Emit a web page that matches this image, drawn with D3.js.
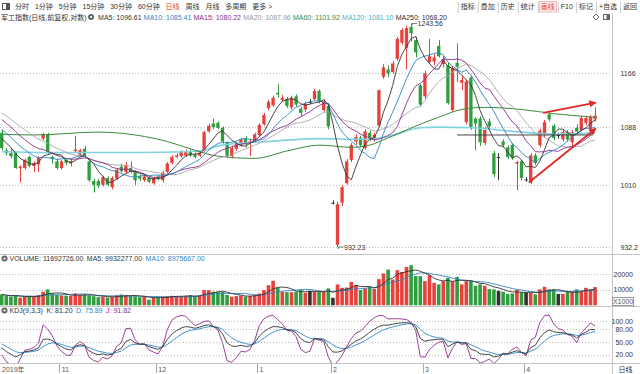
<!DOCTYPE html>
<html>
<head>
<meta charset="utf-8">
<script src="https://cdn.jsdelivr.net/npm/d3@7"></script>
<style>
body { margin: 0; background: #fff; }
svg { display: block; font-family: "Liberation Sans", Arial, "Noto Sans CJK SC", sans-serif; }
</style>
</head>
<body>
<svg width="640" height="374"></svg>
<script>
// ---- data ----
var months = ["2019-10", "2019-11", "2019-12", "2020-01", "2020-02", "2020-03", "2020-04"];
var monthLabels = ["2019年", "11", "12", "1", "2", "3", "4"];
var tradingDays = [
    [15,16,17,18,21,22,23,24,25,28,29,30,31],
    [1,4,5,6,7,8,11,12,13,14,15,18,19,20,21,22,25,26,27,28,29],
    [2,3,4,5,6,9,10,11,12,13,16,17,18,19,20,23,24,25,26,27,30,31],
    [2,3,6,7,8,9,10,13,14,15,16,17,20,21,22,23],
    [3,4,5,6,7,10,11,12,13,14,17,18,19,20,21,24,25,26,27,28],
    [2,3,4,5,6,9,10,11,12,13,16,17,18,19,20,23,24,25,26,27,30,31],
    [1,2,3,7,8,9,10,13,14,15,16,17,20,21,22,23]
];

var opens = [1080,1056,1052,1052,1032,1032,1047,1035,1037,1072, 1078,1047,1041,1032,1043,1038,1055,1050,1058,1041,
    1015,1015,1010,1019,1007,1018,1034,1027,1032,1027, 1021,1016,1019,1012,1021,1016,1027,1039,1047,1048,
    1049,1055,1050,1049,1055,1082,1093,1094,1087,1066, 1048,1058,1064,1072,1067,1069,1077,1092,1115,1119,
    1137,1127,1128,1116,1132,1114,1113,1124,1128,1140, 1112,1118,987,935,987,1012,1043,1068,1073,1059,
    1080,1071,1090,1161,1172,1168,1188,1213,1205,1238, 1217,1148,1132,1183,1184,1208,1180,1178,1112,1182,
    1152,1095,1160,1100,1100,1066,1096,1052,1047,1068, 1060,1063,1038,1041,1017,1013,1049,1063,1077,1106,
    1090,1077,1071,1081,1067,1087,1084,1094,1084,1099];
var highs = [1084,1059,1059,1054,1036,1045,1049,1041,1048,1080, 1080,1049,1045,1043,1045,1044,1076,1058,1062,1043,
    1018,1018,1022,1021,1021,1032,1038,1040,1041,1029, 1023,1024,1021,1021,1023,1028,1040,1049,1052,1056,
    1057,1057,1053,1056,1083,1093,1100,1096,1089,1068, 1062,1068,1073,1075,1072,1080,1093,1108,1127,1133,
    1150,1134,1131,1133,1135,1117,1124,1128,1143,1142, 1128,1122,990,988,1010,1044,1066,1078,1076,1085,
    1083,1080,1142,1180,1178,1185,1222,1236,1240,1243.56, 1222,1150,1170,1219,1195,1217,1192,1182,1177,1212,
    1163,1157,1163,1102,1103,1088,1100,1055,1052,1071, 1063,1066,1042,1043,1020,1052,1052,1086,1098,1108,
    1092,1080,1085,1084,1084,1092,1104,1104,1105,1116];
var lows = [1056,1049,1045,1031,1013,1030,1033,1027,1027,1070, 1050,1038,1030,1030,1036,1034,1053,1048,1047,1014,
    1000,1006,1008,1008,1004,1016,1026,1025,1025,1010, 1015,1014,1012,1010,1016,1013,1025,1037,1045,1046,
    1047,1047,1045,1047,1053,1080,1085,1085,1065,1046, 1045,1055,1061,1060,1048,1066,1075,1090,1112,1117,
    1130,1124,1115,1113,1117,1104,1110,1121,1126,1122, 1110,1085,985,932.23,983,1010,1040,1064,1060,1057,
    1069,1068,1089,1158,1160,1165,1185,1210,1172,1215, 1190,1117,1128,1180,1178,1190,1175,1120,1110,1153,
    1141,1092,1084,1056,1062,1063,1085,1020,1016,1060, 1044,1043,1003,1016,1014,1011,1036,1060,1074,1096,
    1070,1072,1068,1068,1062,1079,1082,1091,1082,1096];
var closes = [1059,1052,1048,1032,1034,1043,1035,1039,1046,1078, 1052,1044,1032,1041,1039,1041,1057,1056,1049,1016,
    1010,1009,1020,1010,1019,1030,1028,1036,1027,1016, 1018,1021,1014,1019,1018,1026,1038,1047,1049,1054,
    1054,1049,1047,1053,1081,1090,1088,1087,1068,1048, 1059,1066,1071,1064,1068,1078,1091,1105,1124,1130,
    1135,1130,1118,1130,1120,1108,1121,1124,1140,1125, 1124,1089,987,985,1007,1041,1063,1074,1063,1082,
    1071,1077,1141,1175,1166,1181,1219,1233,1236,1228, 1198,1120,1166,1192,1190,1192,1188,1122,1174,1176,
    1156,1154,1087,1093,1067,1084,1089,1024,1047,1063, 1047,1046,1040,1019,1017,1049,1039,1083,1095,1099,
    1073,1077,1081,1071,1081,1082,1101,1101,1102,1104];
// volume in thousands
var volumes = [7000,5900,5500,6500,4900,5500,5900,5500,6600,8700, 10200,7600,6600,6300,6200,6000,7600,6600,6800,6300,
    5800,5200,5600,5000,5400,6400,6900,6500,5900,5700, 5200,5500,3600,5000,5100,5500,5900,6100,5800,5600,
    6100,6500,5600,6300,9800,9700,8700,8600,8500,6600, 5500,5900,6200,5600,6100,6500,7600,9700,12900,15700,
    11400,8700,8400,8400,8700,9900,8000,9300,8800,8900, 8900,10800,4800,13400,11200,11400,15000,12900,9800,10800,
    11900,10400,16800,20400,22900,16500,22500,21400,24600,25700, 18700,18700,15500,19300,14400,13400,15500,17600,15500,18200,
    13400,15500,15500,12500,13400,12500,10400,10200,9300,8700, 7300,7600,9800,8400,8000,8000,7000,10200,11900,10200,
    10200,7300,7300,8700,8700,10200,8700,11200,10200,11693];
// closes before the first visible day, only for the short moving averages
var warmupCloses = [1140,1138,1135,1136,1130,1132,1128,1125,1124,1122,1108,1102,1096,1094,1090,1082,1078,1072,1069];

// long moving averages
var ma60Idx = [0,7,21,31,36,42,47,55,62,69,76,80,84,88,95,100,105,113,120,129];
var ma60Val = [1078,1077,1081,1075,1068,1056,1048,1045,1055,1063,1060,1063,1073,1084,1102,1113,1116,1113,1107,1102];
var ma120Idx = [0,9,20,30,40,44,47,58,69,78,84,91,95,102,113,120,129];
var ma120Val = [1054,1053,1053,1053,1054,1056,1062,1068,1072,1071,1075,1087,1088,1087,1081,1078,1080];

var priceTicks = [932.2, 1010, 1088, 1166];
var priceTickLabels = ["932.2", "1010", "1088", "1166"];
var volTicks = [10000, 20000];
var kdjTicks = [20, 50, 80, 100];
var kdjTickLabels = ["20.00", "50.00", "80.00", "100.00"];

var tabs = ["分时", "1分钟", "5分钟", "15分钟", "30分钟", "60分钟", "日线", "周线", "月线", "多周期", "更多 >"];
var buttons = ["指标", "叠加", "历史", "统计", "画线", "F10", "标记", "+自选", "返回"];
var maHeader = ["MA5: 1096.61", "MA10: 1085.41", "MA15: 1080.22", "MA20: 1087.96", "MA60: 1101.92", "MA120: 1081.10", "MA250: 1068.20"];
var volHeader = ["VOLUME: 11692726.00", "MA5: 9932277.00", "MA10: 8975667.00"];
var kdjHeader = ["KDJ(9,3,3)", "K: 81.20", "D: 75.89", "J: 91.82"];

// hand-drawn marks: [fromIndex, fromPrice, toIndex, toPrice]
var arrows = [[114.6, 1013, 129.15, 1086], [117.7, 1108, 129.15, 1123]];
var hLine = [99, 128.5, 1077];

// ---- setup ----
var dates = [];
months.forEach(function(m, k) {
    tradingDays[k].forEach(function(d) { dates.push(m + "-" + d); });
});
var n = dates.length;
var red = "#e8403a", green = "#2f9e3f", flat = "#333";
var maColors = ["#333333", "#2f86c4", "#8a2f8a", "#a8a8a8", "#3b8a3b", "#3bb5c8", "#333333"];
var plotR = 612;

var svg = d3.select("svg");
svg.append("rect").attr("width", 640).attr("height", 374).attr("fill", "#fff");

var x = d3.scaleBand().domain(d3.range(n)).range([-0.6, 597.4]);
var xc = function(i) { return x(i) + x.bandwidth() / 2; };
var xf = d3.scaleLinear().domain([0, n - 1]).range([xc(0), xc(n - 1)]);
var bw = 3.3;

var y = d3.scaleLog().domain([d3.min(lows), d3.max(highs)]).range([247, 23.4]);
var yv = d3.scaleLinear().domain([0, d3.max(volumes)]).range([305.3, 265.2]);
var yk = d3.scaleLinear().domain([0, 100]).range([363.1, 321]);

function colorOf(i) {
    return closes[i] > opens[i] ? red : (closes[i] < opens[i] ? green : flat);
}

function sma(arr, len, warm) {
    var all = warm.concat(arr);
    return arr.map(function(_, i) {
        var j = i + warm.length;
        return d3.mean(all.slice(Math.max(0, j - len + 1), j + 1));
    });
}

// ---- toolbar ----
var bar = svg.append("g").attr("font-size", 7);
bar.append("rect").attr("x", 2.5).attr("y", 3.5).attr("width", 7).attr("height", 6)
    .attr("fill", "none").attr("stroke", "#555");
bar.append("rect").attr("x", 6).attr("y", 3.5).attr("width", 3.5).attr("height", 6).attr("fill", "#555");
var tx = 15;
tabs.forEach(function(t) {
    var el = bar.append("text").attr("x", tx).attr("y", 9)
        .attr("fill", t === "日线" ? red : "#333").text(t);
    tx += el.node().getComputedTextLength() + 5.9;
});
var btnW = buttons.map(function(b) {
    var t = bar.append("text").text(b);
    var w = t.node().getComputedTextLength();
    t.remove();
    return w + 6;
});
var bx = 640 - d3.sum(btnW);
buttons.forEach(function(b, k) {
    bar.append("line").attr("x1", bx + 0.5).attr("x2", bx + 0.5).attr("y1", 2).attr("y2", 13).attr("stroke", "#ccc");
    if (b === "画线") {
        bar.append("rect").attr("x", bx + 1.5).attr("y", 1.5).attr("width", btnW[k] - 3).attr("height", 10.5)
            .attr("fill", "#fdeeee").attr("stroke", "#f2b8b8");
    }
    bar.append("text").attr("x", bx + btnW[k] / 2).attr("y", 9).attr("text-anchor", "middle")
        .attr("fill", b === "画线" ? red : "#333").text(b);
    bx += btnW[k];
});

// ---- frame ----
var frame = svg.append("g").attr("stroke", "#c4c4c4").attr("shape-rendering", "crispEdges");
frame.append("line").attr("x1", plotR).attr("x2", plotR).attr("y1", 13).attr("y2", 374);
[254, 306, 363].forEach(function(v) {
    frame.append("line").attr("x1", 0).attr("x2", 640).attr("y1", v).attr("y2", v);
});

function gearIcon(g, cx, cy) {
    g.append("circle").attr("cx", cx).attr("cy", cy).attr("r", 3).attr("fill", "#666");
    g.append("circle").attr("cx", cx).attr("cy", cy).attr("r", 1.1).attr("fill", "#fff");
}

function textRow(g, items, colors, x0, yb, gap) {
    var xx = x0;
    items.forEach(function(t, k) {
        var el = g.append("text").attr("x", xx).attr("y", yb).attr("fill", colors[k]).text(t);
        xx += el.node().getComputedTextLength() + gap;
    });
    return xx;
}

// ---- title line ----
var head = svg.append("g").attr("font-size", 7);
var afterTitle = textRow(head, ["军工指数(日线,前复权,对数)"], ["#333"], 1, 19.5, 2);
gearIcon(head, afterTitle + 2.5, 17);
textRow(head, maHeader, ["#333", "#2f86c4", "#8a2f8a", "#999", "#3b8a3b", "#3bb5c8", "#333"], afterTitle + 9.5, 19.5, 2.2);
head.append("path").attr("d", "M596,14 L599,17 L596,20 L593,17 Z").attr("fill", "none").attr("stroke", "#666");
head.append("rect").attr("x", 603.5).attr("y", 14.5).attr("width", 6).attr("height", 5).attr("fill", "none").attr("stroke", "#666");
head.append("rect").attr("x", 606.5).attr("y", 14.5).attr("width", 3).attr("height", 5).attr("fill", "#666");

// ---- main chart ----
svg.append("clipPath").attr("id", "mainClip").append("rect")
    .attr("x", 0).attr("y", 21).attr("width", plotR).attr("height", 232);
var main = svg.append("g").attr("clip-path", "url(#mainClip)");

main.selectAll(".grid").data(priceTicks).enter().append("line")
    .attr("x1", 0).attr("x2", plotR).attr("y1", function(d) { return Math.round(y(d)) + 0.5; })
    .attr("y2", function(d) { return Math.round(y(d)) + 0.5; })
    .attr("stroke", "#bbb").attr("stroke-dasharray", "1,2");

var candles = main.append("g").selectAll("g").data(d3.range(n)).enter().append("g");
candles.append("line")
    .attr("x1", function(i) { return Math.round(xc(i)) + 0.5; })
    .attr("x2", function(i) { return Math.round(xc(i)) + 0.5; })
    .attr("y1", function(i) { return y(highs[i]); })
    .attr("y2", function(i) { return y(lows[i]); })
    .attr("stroke", colorOf);
candles.append("rect")
    .attr("x", function(i) { return xc(i) - bw / 2; })
    .attr("width", bw)
    .attr("y", function(i) { return y(Math.max(opens[i], closes[i])); })
    .attr("height", function(i) { return Math.max(1, Math.abs(y(opens[i]) - y(closes[i]))); })
    .attr("fill", colorOf);

var line = d3.line().x(function(d) { return xf(d[0]); }).y(function(d) { return y(d[1]); });
var shortMAs = [5, 10, 15, 20].map(function(len) { return sma(closes, len, warmupCloses); });

main.append("path").datum(ma120Idx.map(function(i, k) { return [i, ma120Val[k]]; }))
    .attr("d", line.curve(d3.curveMonotoneX)).attr("fill", "none").attr("stroke", "#7fd3de").attr("stroke-width", 1.6);
main.append("path").datum(ma60Idx.map(function(i, k) { return [i, ma60Val[k]]; }))
    .attr("d", line.curve(d3.curveMonotoneX)).attr("fill", "none").attr("stroke", maColors[4]).attr("stroke-width", 1);
line.curve(d3.curveLinear);
[3, 2, 1, 0].forEach(function(k) {
    main.append("path").datum(shortMAs[k].map(function(v, i) { return [i, v]; }))
        .attr("d", line).attr("fill", "none").attr("stroke", maColors[k]).attr("stroke-width", 0.9);
});

// horizontal line and arrows drawn on the chart
main.append("line")
    .attr("x1", xf(hLine[0])).attr("x2", xf(hLine[1]))
    .attr("y1", y(hLine[2])).attr("y2", y(hLine[2]))
    .attr("stroke", "#444").attr("stroke-width", 1);
svg.append("defs").append("marker").attr("id", "head")
    .attr("viewBox", "0 0 10 10").attr("refX", 9).attr("refY", 5)
    .attr("markerWidth", 4).attr("markerHeight", 4).attr("orient", "auto")
    .append("path").attr("d", "M0,0 L10,5 L0,10 Z").attr("fill", "#e02a24");
main.selectAll(".arrow").data(arrows).enter().append("line")
    .attr("x1", function(d) { return xf(d[0]); }).attr("y1", function(d) { return y(d[1]); })
    .attr("x2", function(d) { return xf(d[2]); }).attr("y2", function(d) { return y(d[3]); })
    .attr("stroke", "#e02a24").attr("stroke-width", 1.8).attr("marker-end", "url(#head)");

// extreme labels
var hiIdx = d3.maxIndex(highs), loIdx = d3.minIndex(lows);
[[hiIdx, highs[hiIdx], 3], [loIdx, lows[loIdx], 2.5]].forEach(function(m) {
    var px = xc(m[0]), py = y(m[1]);
    main.append("path").attr("d", "M" + (px + 1) + "," + (py + 2) + "V" + py + "H" + (px + 6))
        .attr("fill", "none").attr("stroke", "#555").attr("stroke-width", 0.8);
    main.append("text").attr("x", px + 6.5).attr("y", py + m[2]).attr("font-size", 7).attr("fill", "#333")
        .text(d3.format(".2f")(m[1]));
});

var yAxis = svg.append("g").attr("transform", "translate(" + plotR + ",0)")
    .call(d3.axisRight(y).tickValues(priceTicks).tickSize(0).tickPadding(8.5)
        .tickFormat(function(d, i) { return priceTickLabels[i]; }));
yAxis.select(".domain").remove();
yAxis.selectAll("text").attr("font-size", 7).attr("fill", "#333").attr("font-family", null);

// ---- volume ----
var vol = svg.append("g").attr("font-size", 7);
gearIcon(vol, 4.5, 258.5);
textRow(vol, volHeader, ["#333", "#333", "#2f86c4"], 9.5, 261, 3.5);
vol.selectAll(".grid").data(volTicks).enter().append("line")
    .attr("x1", 0).attr("x2", plotR).attr("y1", function(d) { return Math.round(yv(d)) + 0.5; })
    .attr("y2", function(d) { return Math.round(yv(d)) + 0.5; })
    .attr("stroke", "#bbb").attr("stroke-dasharray", "1,2");
vol.append("g").selectAll("rect").data(d3.range(n)).enter().append("rect")
    .attr("x", function(i) { return xc(i) - 1.8; })
    .attr("width", 3.6)
    .attr("y", function(i) { return yv(volumes[i]); })
    .attr("height", function(i) { return yv(0) - yv(volumes[i]); })
    .attr("fill", colorOf);
var vline = d3.line().x(function(d, i) { return xc(i); }).y(function(d) { return yv(d); });
vol.append("path").datum(sma(volumes, 10, [])).attr("d", vline).attr("fill", "none").attr("stroke", "#2f86c4").attr("stroke-width", 0.9);
vol.append("path").datum(sma(volumes, 5, [])).attr("d", vline).attr("fill", "none").attr("stroke", "#333").attr("stroke-width", 0.9);
var vAxis = svg.append("g").attr("transform", "translate(" + plotR + ",0)")
    .call(d3.axisRight(yv).tickValues(volTicks).tickSize(0).tickPadding(21).tickFormat(d3.format("d")));
vAxis.select(".domain").remove();
vAxis.selectAll("text").attr("font-size", 7).attr("fill", "#333").attr("text-anchor", "end").attr("font-family", null);
vol.append("rect").attr("x", 612.5).attr("y", 297.5).attr("width", 21).attr("height", 8)
    .attr("fill", "#fff").attr("stroke", "#999");
vol.append("text").attr("x", 623).attr("y", 304).attr("text-anchor", "middle").attr("fill", "#555").text("X1000");

// ---- KDJ ----
var K = 50, D = 50;
var kdj = closes.map(function(c, i) {
    var lo = d3.min(lows.slice(Math.max(0, i - 8), i + 1));
    var hi = d3.max(highs.slice(Math.max(0, i - 8), i + 1));
    var rsv = hi === lo ? 50 : (c - lo) / (hi - lo) * 100;
    K = 2 / 3 * K + rsv / 3;
    D = 2 / 3 * D + K / 3;
    return {k: K, d: D, j: 3 * K - 2 * D};
});
var kg = svg.append("g").attr("font-size", 7);
gearIcon(kg, 4.5, 310.5);
textRow(kg, kdjHeader, ["#333", "#333", "#2f86c4", "#8a2f8a"], 9.5, 313, 3.5);
kg.selectAll(".grid").data(kdjTicks).enter().append("line")
    .attr("x1", 0).attr("x2", plotR).attr("y1", function(d) { return Math.round(yk(d)) + 0.5; })
    .attr("y2", function(d) { return Math.round(yk(d)) + 0.5; })
    .attr("stroke", "#bbb").attr("stroke-dasharray", "1,2");
svg.append("clipPath").attr("id", "kdjClip").append("rect")
    .attr("x", 0).attr("y", 314).attr("width", plotR).attr("height", 49);
var kl = kg.append("g").attr("clip-path", "url(#kdjClip)");
[["j", "#8a2f8a"], ["d", "#2f86c4"], ["k", "#333"]].forEach(function(s) {
    kl.append("path").datum(kdj)
        .attr("d", d3.line().x(function(d, i) { return xc(i); }).y(function(d) { return yk(d[s[0]]); }))
        .attr("fill", "none").attr("stroke", s[1]).attr("stroke-width", 0.9);
});
var kAxis = svg.append("g").attr("transform", "translate(" + plotR + ",0)")
    .call(d3.axisRight(yk).tickValues(kdjTicks).tickSize(0).tickPadding(21)
        .tickFormat(function(d, i) { return kdjTickLabels[i]; }));
kAxis.select(".domain").remove();
kAxis.selectAll("text").attr("font-size", 7).attr("fill", "#333").attr("text-anchor", "end").attr("font-family", null);

// ---- date axis ----
var da = svg.append("g").attr("font-size", 7).attr("fill", "#555");
var monthStart = [];
var acc = 0;
tradingDays.forEach(function(days) { monthStart.push(acc); acc += days.length; });
monthStart.forEach(function(i, k) {
    if (k > 0) {
        da.append("line").attr("x1", Math.round(x(i)) + 0.5).attr("x2", Math.round(x(i)) + 0.5)
            .attr("y1", 364).attr("y2", 373).attr("stroke", "#aaa");
    }
    da.append("text").attr("x", k > 0 ? x(i) + 2.5 : 2).attr("y", 371.5).text(monthLabels[k]);
});
da.append("text").attr("x", 625.5).attr("y", 371.5).attr("text-anchor", "middle").attr("fill", "#333").text("日线");
</script>
</body>
</html>
